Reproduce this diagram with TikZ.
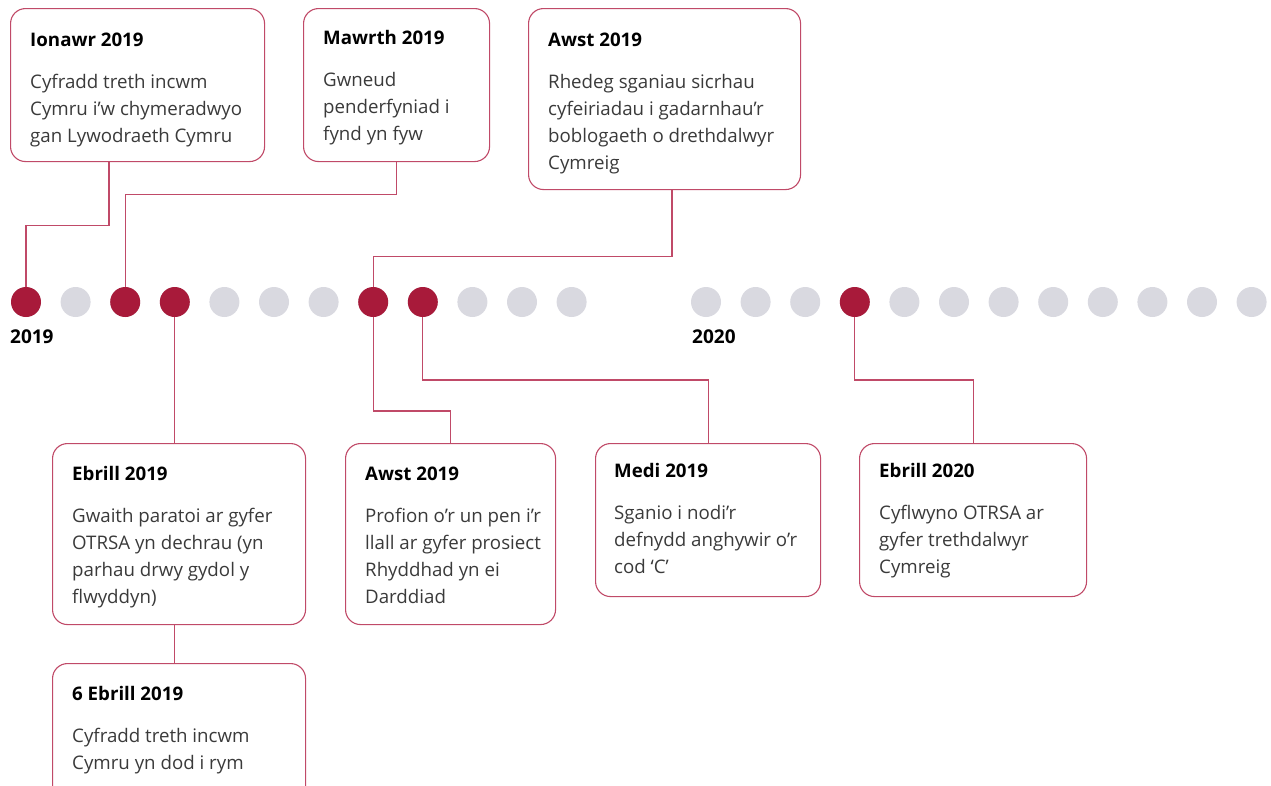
\documentclass[tikz,border=0pt]{standalone}
\usepackage{fontspec}
\setmainfont{Open Sans}
\definecolor{dotred}{HTML}{A81A3A}
\definecolor{dotgrey}{HTML}{D9D9E0}
\definecolor{linered}{HTML}{C04A68}
\definecolor{bodytext}{HTML}{3A3A3A}
\tikzset{
  dot/.style={circle,minimum size=30pt,inner sep=0pt,fill=dotgrey},
  hot/.style={fill=dotred},
  card/.style={draw=linered,line width=1.1pt,rounded corners=15pt,anchor=north west,inner sep=0pt},
  cardtext/.style={anchor=north west,inner sep=0pt,align=left,text=bodytext,
    font=\fontsize{18.7}{27}\selectfont},
  year/.style={anchor=west,inner sep=0pt,font=\fontsize{19}{23}\selectfont\bfseries},
}
\newcommand{\cardhead}[1]{\textcolor{black}{\bfseries #1}\\[15pt]}
\begin{document}
\begin{tikzpicture}[x=1pt,y=-1pt]
  \useasboundingbox (0,0) rectangle (1271,785);
  \clip (0,0) rectangle (1271,785);
  % timeline dots
  \foreach \i in {0,...,11}
    \node[dot] (d\i) at (26+49.6*\i,302) {};
  \foreach \i in {0,...,11}
    \node[dot] (e\i) at (706+49.6*\i,302) {};
  \foreach \i in {0,2,3,7,8}
    \node[dot,hot] at (d\i) {};
  \node[dot,hot] at (e3) {};
  \node[year] (y19) at (10,337) {2019};
  \node[year] (y20) at (692,337) {2020};
  % cards
  \node[card,minimum width=254pt,minimum height=153pt] (ion) at (10,8) {};
  \node[card,minimum width=186pt,minimum height=153pt] (maw) at (303,8) {};
  \node[card,minimum width=272pt,minimum height=181pt] (awt) at (528,8) {};
  \node[card,minimum width=253pt,minimum height=181pt] (ebr) at (52,443) {};
  \node[card,minimum width=210pt,minimum height=181pt] (awb) at (345,443) {};
  \node[card,minimum width=225pt,minimum height=153pt] (med) at (595,443) {};
  \node[card,minimum width=227pt,minimum height=153pt] (e20) at (859,443) {};
  \node[card,minimum width=253pt,minimum height=153pt] (eb6) at (52,663) {};
  % card texts
  \node[cardtext] (ionT) at (30,32.5) {\cardhead{Ionawr 2019}Cyfradd treth incwm\\Cymru i’w chymeradwyo\\gan Lywodraeth Cymru};
  \node[cardtext] (mawT) at (323,30.5) {\cardhead{Mawrth 2019}Gwneud\\penderfyniad i\\fynd yn fyw};
  \node[cardtext] (awtT) at (548,32.5) {\cardhead{Awst 2019}Rhedeg sganiau sicrhau\\cyfeiriadau i gadarnhau’r\\boblogaeth o drethdalwyr\\Cymreig};
  \node[cardtext] (ebrT) at (72,466.5) {\cardhead{Ebrill 2019}Gwaith paratoi ar gyfer\\OTRSA yn dechrau (yn\\parhau drwy gydol y\\flwyddyn)};
  \node[cardtext] (awbT) at (365,466.5) {\cardhead{Awst 2019}Profion o’r un pen i’r\\llall ar gyfer prosiect\\Rhyddhad yn ei\\Darddiad};
  \node[cardtext] (medT) at (614,463.5) {\cardhead{Medi 2019}Sganio i nodi’r\\defnydd anghywir o’r\\cod ‘C’};
  \node[cardtext] (e20T) at (879,463.5) {\cardhead{Ebrill 2020}Cyflwyno OTRSA ar\\gyfer trethdalwyr\\Cymreig};
  \node[cardtext] (eb6T) at (72,686.5) {\cardhead{6 Ebrill 2019}Cyfradd treth incwm\\Cymru yn dod i rym};
  \begin{scope}[draw=linered,line width=1.1pt]
    \draw (ion.south west) ++(99,0) -- ++(0,63) -| (d0);
    \draw (maw.south) -- ++(0,32) -| (d2);
    \draw (awt.south west) ++(144,0) -- ++(0,66) -| (d7);
    \draw (d3) -- (d3 |- ebr.north);
    \draw (d3 |- ebr.south) -- (d3 |- eb6.north);
    \draw (d7) -- (d7 |- 0,411) -| (awb.north);
    \draw (d8) -- (d8 |- 0,380) -| (med.north);
    \draw (e3) -- (e3 |- 0,380) -| (e20.north);
  \end{scope}
\end{tikzpicture}
\end{document}
